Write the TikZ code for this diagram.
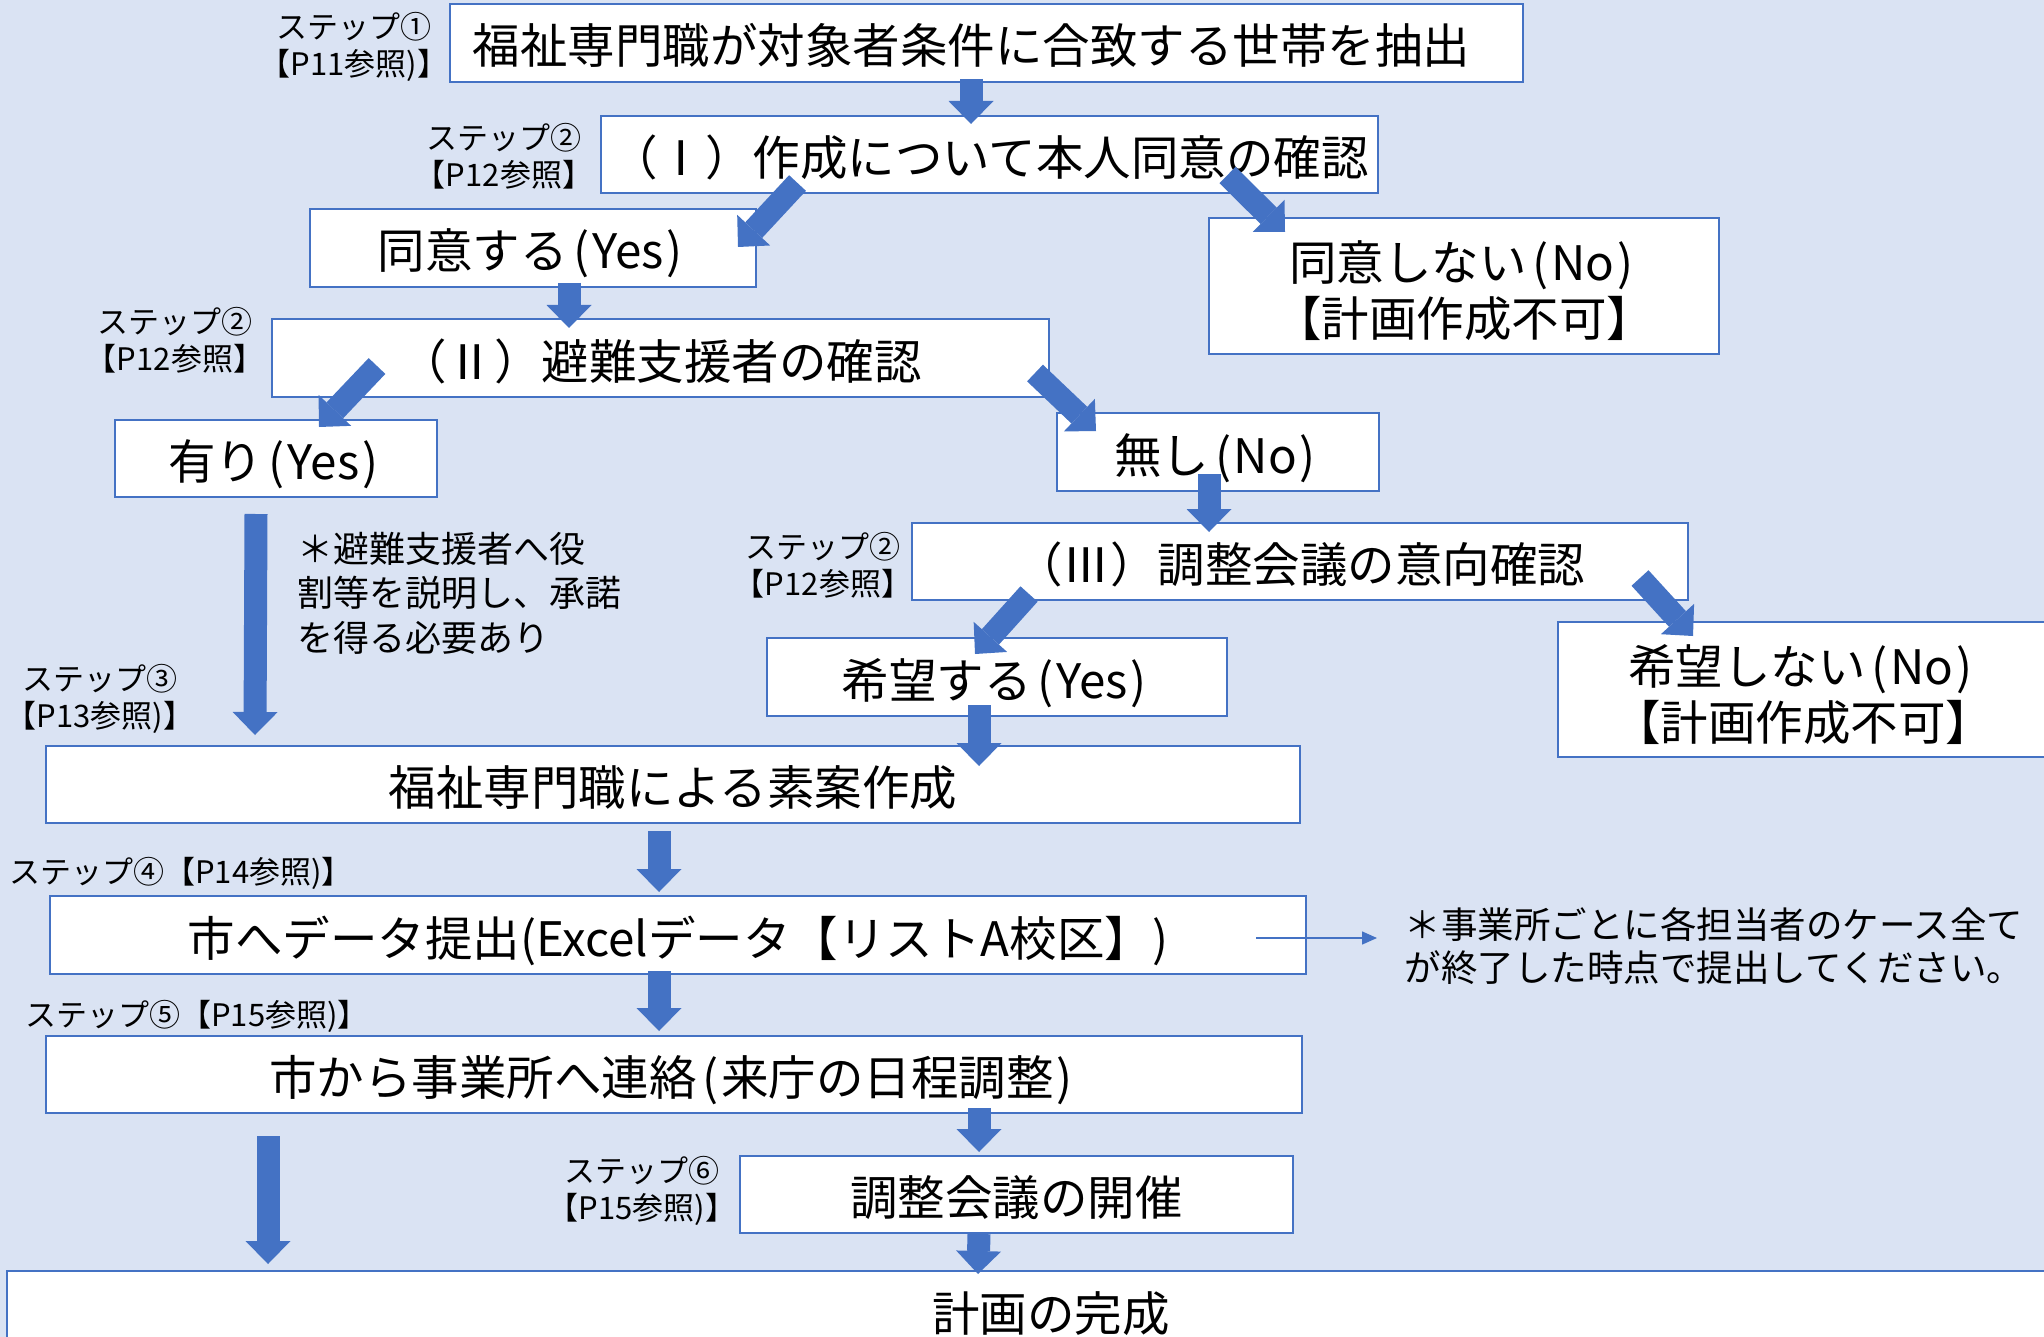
\documentclass[tikz,border=0pt]{standalone}
\usepackage{fontspec}
\setmainfont{Noto Sans CJK JP}
\usetikzlibrary{arrows.meta,calc}
\definecolor{bgc}{HTML}{DAE3F3}
\definecolor{acc}{HTML}{4472C4}
\newcommand\fsMain{\fontsize{47.5}{56}\selectfont}
\newcommand\fsLbl{\fontsize{31}{37}\selectfont}
\newcommand\fsNoteA{\fontsize{36}{44.5}\selectfont}
\newcommand\fsNoteB{\fontsize{36.5}{43}\selectfont}
\newcommand\lpar{\kern0.12em(\kern0.06em}
\newcommand\rpar{\kern0.06em)\kern0.12em}
\begin{document}
\begin{tikzpicture}[x=1pt,y=-1pt,
  boxbase/.style={draw=acc, line width=2pt, fill=white, inner sep=0pt, align=center, font=\fsMain},
  box/.style={boxbase, text height=46pt, text depth=4pt},
  twobox/.style={boxbase},
  lbl/.style={inner sep=0pt, align=center, font=\fsLbl},
  barrow/.style={draw=acc, line width=23pt, -{Triangle[width=45pt,length=23pt,line width=0pt]}},
  thinarrow/.style={draw=acc, line width=1.5pt, -{Triangle[width=13pt,length=15pt]}}
]
\useasboundingbox (0,0) rectangle (2044,1337);
\fill[bgc] (0,0) rectangle (2044,1337);
\clip (0,0) rectangle (2044,1337);

% boxes
\node[box, minimum width=1073, minimum height=78] (b1) at (986.5,43) {福祉専門職が対象者条件に合致する世帯を抽出\hspace*{30pt}};
\node[box, minimum width=777, minimum height=77] (b2) at (989.5,154.5) {（Ⅰ）作成について本人同意の確認};
\node[box, minimum width=446, minimum height=78] (b3) at (533,248) {同意する\lpar Yes\rpar};
\node[twobox, minimum width=510, minimum height=136] (b4) at (1464,286) {\rule{0pt}{50pt}同意しない\lpar No\rpar\\【計画作成不可】};
\node[box, minimum width=777, minimum height=78] (b5) at (660.5,358) {（Ⅱ）避難支援者の確認};
\node[box, minimum width=322, minimum height=77] (b6) at (276,458.5) {有り\lpar Yes\rpar};
\node[box, minimum width=322, minimum height=78] (b7) at (1218,452) {無し\lpar No\rpar};
\node[box, minimum width=776, minimum height=77] (b8) at (1300,561.5) {（Ⅲ）調整会議の意向確認};
\node[box, minimum width=460, minimum height=78] (b9) at (997,677) {希望する\lpar Yes\rpar};
\node[twobox, minimum width=490, minimum height=135] (b10) at (1803,689.5) {\rule{0pt}{50pt}希望しない\lpar No\rpar\\【計画作成不可】};
\node[box, minimum width=1254, minimum height=77] (b11) at (673,784.5) {福祉専門職による素案作成};
\node[box, minimum width=1256, minimum height=78] (b12) at (678,935) {市へデータ提出(Excelデータ【リストA校区】)};
\node[box, minimum width=1256, minimum height=77] (b13) at (674,1074.5) {市から事業所へ連絡\lpar 来庁の日程調整\rpar};
\node[box, minimum width=553, minimum height=77] (b14) at (1016.5,1194.5) {調整会議の開催};
\node[box, minimum width=2088, minimum height=78] (b15) at (1051,1310) {計画の完成};

% step labels
\node[lbl] (l1) at (354,47) {ステップ①\\【P11参照)】};
\node[lbl] (l2) at (504,156) {ステップ②\\【P12参照】};
\node[lbl] (l5) at (175,340) {ステップ②\\【P12参照】};
\node[lbl] (l8) at (823,565) {ステップ②\\【P12参照】};
\node[lbl] (l3) at (100,699) {ステップ③\\【P13参照)】};
\node[lbl, anchor=west] (l4) at (9,873) {ステップ④【P14参照)】};
\node[lbl, anchor=west] (l5b) at (25,1016) {ステップ⑤【P15参照)】};
\node[lbl] (l6) at (642,1191) {ステップ⑥\\【P15参照)】};

% notes
\node[inner sep=0pt, align=left, anchor=west, font=\fsNoteA] (n1) at (297,593) {＊避難支援者へ役\\割等を説明し、承諾\\を得る必要あり};
\node[inner sep=0pt, align=center, font=\fsNoteB] (n2) at (1714,946) {＊事業所ごとに各担当者のケース全て\\が終了した時点で提出してください。};
\coordinate (n2tip) at (1377,938);

% block arrows
\draw[barrow] ($(b1.south)+(-15.5,-4)$) -- ($(b2.north)+(-18.5,9)$);
\draw[barrow] ($(b2.south)+(-192,-11)$) -- ($(b3.north east)+(-19,39)$);
\draw[barrow] ($(b2.south)+(238,-19)$) -- ($(b4.north west)+(77,15)$);
\draw[barrow] ($(b3.south)+(36,-5)$) -- ($(b5.north)+(-91.5,10)$);
\draw[barrow] ($(b5.south west)+(106,-32)$) -- ($(b6.north)+(43,8)$);
\draw[barrow] ($(b5.south east)+(-15,-25)$) -- ($(b7.north west)+(40,19)$);
\draw[barrow] ($(b6.south)+(-20,16)$) -- ($(b11.north west)+(210,-10)$);
\draw[barrow] ($(b7.south)+(-9,-18)$) -- ($(b8.north)+(-91,10)$);
\draw[barrow] ($(b8.south west)+(118,-7)$) -- ($(b9.north west)+(209,17)$);
\draw[barrow] ($(b8.south east)+(-49,-23)$) -- ($(b10.north west)+(136,15)$);
\draw[barrow] ($(b9.south)+(-18,-12)$) -- ($(b11.north)+(306,21)$);
\draw[barrow] ($(b11.south)+(-14,7)$) -- ($(b12.north)+(-19,-3)$);
\draw[barrow] ($(b12.south)+(-19,-4)$) -- ($(b13.north)+(-15,-4)$);
\draw[barrow] ($(b13.south)+(305,-6)$) -- ($(b14.north)+(-37.5,-3)$);
\draw[barrow] ($(b13.south west)+(223,22)$) -- ($(b15.north west)+(262,-6)$);
\draw[barrow] ($(b14.south)+(-37.5,0)$) -- ($(b15.north west)+(972,4)$);

% thin arrow to note
\draw[thinarrow] ($(b12.east)+(-51,3)$) -- (n2tip);
\end{tikzpicture}
\end{document}
